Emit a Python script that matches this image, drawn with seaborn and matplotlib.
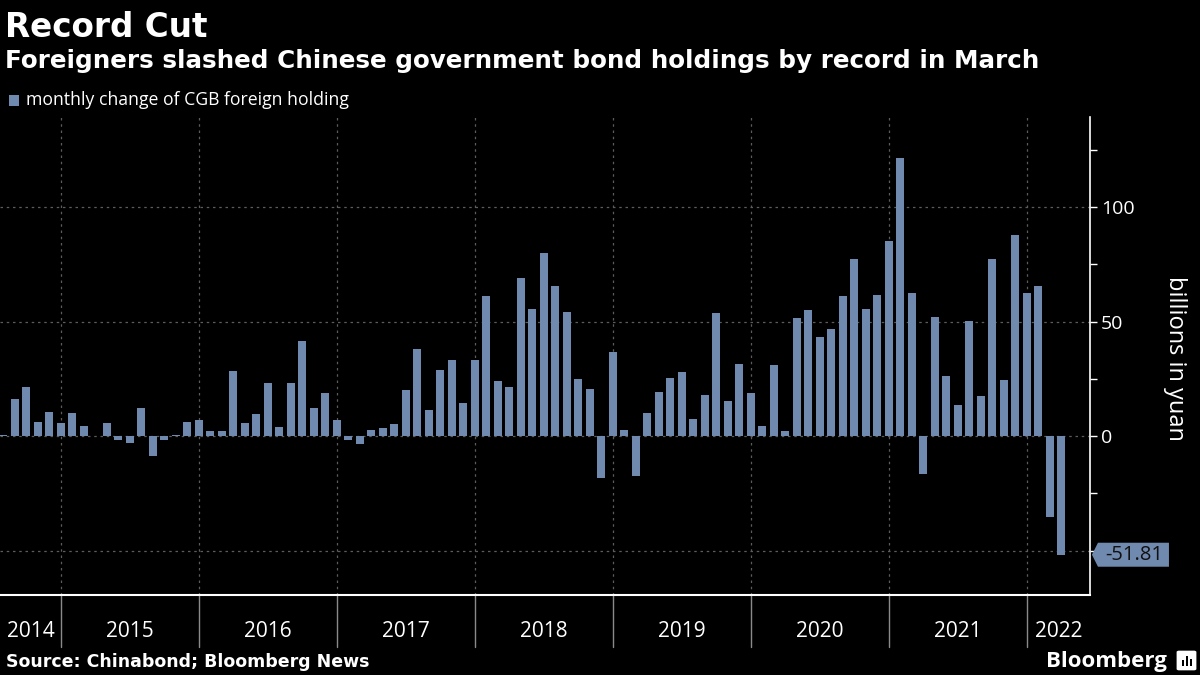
import numpy as np
import pandas as pd
import matplotlib
matplotlib.use('Agg')
import matplotlib.pyplot as plt
import matplotlib.transforms as mtransforms
from matplotlib.patches import Polygon, Rectangle, FancyBboxPatch
import seaborn as sns

# monthly change of CGB foreign holding, Jul 2014 - Mar 2022 (billions of yuan)
values = [0.3, 16.3, 21.5, 6.3, 10.6, 5.8,
          10.2, 4.5, 0.2, 5.8, -1.5, -3.2, 12.4, -8.9, -1.9, 0.3, 6.3, 7.1,
          2.3, 2.3, 28.5, 5.8, 9.8, 23.3, 4.1, 23.3, 41.4, 12.4, 18.9, 7.1,
          -1.6, -3.3, 2.8, 3.6, 5.4, 20.2, 38.1, 11.5, 29.0, 33.3, 14.6, 33.3,
          61.3, 24.2, 21.5, 69.1, 55.6, 80.1, 65.6, 54.3, 25.0, 20.7, -18.2, 36.8,
          2.8, -17.3, 10.2, 19.4, 25.5, 28.1, 7.6, 18.0, 53.9, 15.4, 31.6, 18.9,
          4.5, 31.1, 2.3, 51.7, 55.2, 43.4, 46.9, 61.3, 77.4, 55.5, 61.5, 85.3,
          121.5, 62.3, -16.4, 51.8, 26.1, 13.5, 50.1, 17.4, 77.5, 24.4, 88.0, 62.3,
          65.7, -35.3, -51.81]
months = pd.date_range('2014-07-31', periods=len(values), freq='ME')
year_labels = ['2014', '2015', '2016', '2017', '2018', '2019', '2020', '2021', '2022']
y_ticks = [-50, 0, 50, 100]
y_tick_labels = ['', '0', '50', '100']  # -50 is hidden under the last-value tag

bar_color = '#7089ae'
grid_color = '#5c5c5c'

sns.set_style('dark')
plt.rcParams['font.family'] = ['Open Sans', 'DejaVu Sans']

fig = plt.figure(figsize=(12, 6.75), dpi=100, facecolor='black')
ax = fig.add_axes([0, 0.1185, 0.9083, 0.7081])
ax.set_facecolor('black')

df = pd.DataFrame({'month': months.strftime('%Y-%m'), 'change': values})
sns.barplot(data=df, x='month', y='change', color=bar_color, saturation=1,
            width=0.7, linewidth=0, ax=ax, zorder=3)

xmin, xmax = -0.3, 94.5
ax.set_xlim(xmin, xmax)
ax.set_ylim(-69.4, 139.3)

# year boundaries sit on the December bars
dec_pos = [i for i, m in enumerate(months) if m.month == 12]
quarter_pos = [i for i, m in enumerate(months) if m.month % 3 == 0]
edges = [xmin] + dec_pos + [xmax]
centers = [(a + b) / 2 for a, b in zip(edges[:-1], edges[1:])]

ax.set_xticks(centers)
ax.set_xticklabels(year_labels)
ax.set_xticks(quarter_pos, minor=True)
ax.tick_params(axis='x', which='major', length=0, pad=19, labelsize=15, colors='white')
ax.tick_params(axis='x', which='minor', length=4, width=1, color='white')
ax.set_xlabel('')

ax.yaxis.tick_right()
ax.set_yticks(y_ticks)
ax.set_yticklabels(y_tick_labels)
ax.set_yticks([-25, 25, 75, 125], minor=True)
ax.tick_params(axis='y', which='both', length=5, width=1, color='white')
ax.tick_params(axis='y', which='major', labelsize=14, labelcolor='white', pad=3)
ax.set_ylabel('')

ax.grid(False)
for yv in y_ticks:
    ax.axhline(yv, color=grid_color, linestyle=(0, (2, 3)), linewidth=0.9, zorder=1)
for p in dec_pos:
    ax.axvline(p, color=grid_color, linestyle=(0, (2, 3)), linewidth=0.9, zorder=1)

for side in ['top', 'left']:
    ax.spines[side].set_visible(False)
ax.spines['bottom'].set_color('white')
ax.spines['bottom'].set_linewidth(1.5)
ax.spines['right'].set_color('white')
ax.spines['right'].set_linewidth(1.2)

# separators between year labels below the axis
trans = mtransforms.blended_transform_factory(ax.transData, ax.transAxes)
for p in dec_pos:
    ax.plot([p, p], [0, -0.109], transform=trans, clip_on=False, color='#8a8a8a', lw=1)

# last value tag
fig.canvas.draw()
inv = fig.transFigure.inverted()
xr = ax.transAxes.transform((1, 0))[0]
yp = ax.transData.transform((0, values[-1]))[1]
pts = [(xr + 2, yp), (xr + 8, yp + 12), (xr + 79, yp + 12), (xr + 79, yp - 12), (xr + 8, yp - 12)]
fig.patches.append(Polygon(inv.transform(pts), closed=True, facecolor=bar_color,
                           edgecolor='none', transform=fig.transFigure))
tx, ty = inv.transform((xr + 44, yp))
fig.text(tx, ty, f'{values[-1]:.2f}', ha='center', va='center', fontsize=14.5, color='#111111')

# titles
fig.text(0.004, 0.945, 'Record Cut', fontsize=23.5, fontweight='bold', color='white',
         family='DejaVu Sans', ha='left', va='baseline')
fig.text(0.004, 0.899, 'Foreigners slashed Chinese government bond holdings by record in March',
         fontsize=17.7, fontweight='bold', color='white', family='DejaVu Sans',
         ha='left', va='baseline')

# legend
fig.patches.append(Rectangle((9 / 1200, 1 - 106 / 675), 10 / 1200, 11 / 675,
                             facecolor=bar_color, edgecolor='none', transform=fig.transFigure))
fig.text(26 / 1200, 1 - 100 / 675, 'monthly change of CGB foreign holding', fontsize=12.7,
         color='white', ha='left', va='center')

fig.text(1175 / 1200, 1 - 358 / 675, 'billions in yuan', rotation=270, fontsize=17,
         color='white', ha='center', va='center')

# footer
fig.text(6 / 1200, 1 - 662 / 675, 'Source: Chinabond; Bloomberg News', fontsize=12.5,
         fontweight='bold', color='white', family='DejaVu Sans', ha='left', va='center')
fig.text(1167 / 1200, 1 - 661 / 675, 'Bloomberg', fontsize=16, fontweight='bold',
         color='white', ha='right', va='center')
fig.patches.append(FancyBboxPatch((1179 / 1200, 1 - 669 / 675), 15 / 1200, 17 / 675,
                                  boxstyle='round,pad=0.002', facecolor='white',
                                  edgecolor='none', transform=fig.transFigure))
for bx, bh in [(1182, 6), (1186, 10), (1190, 7)]:
    fig.patches.append(Rectangle((bx / 1200, 1 - 666 / 675), 2 / 1200, bh / 675,
                                 facecolor='black', edgecolor='none', transform=fig.transFigure))

fig.savefig('out.png', dpi=100, facecolor='black')
